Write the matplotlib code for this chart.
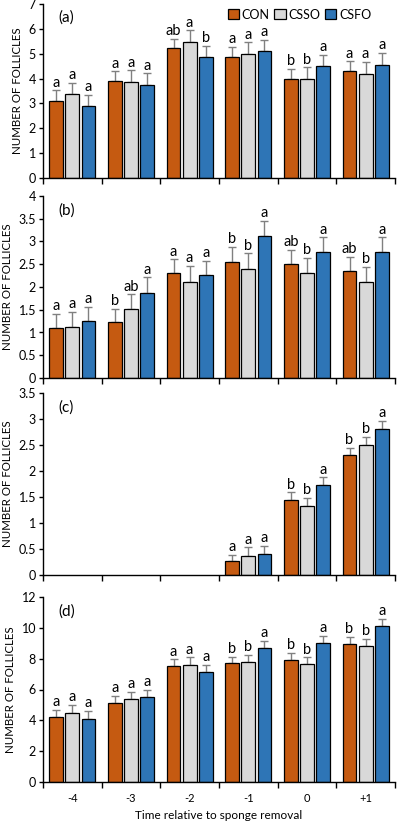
import matplotlib
matplotlib.use("Agg")
import matplotlib.pyplot as plt
import numpy as np

plt.rcParams["font.family"] = ["Lato", "DejaVu Sans"]

days = ["-4", "-3", "-2", "-1", "0", "+1"]
groups = ["CON", "CSSO", "CSFO"]
colors = {"CON": "#C55A11", "CSSO": "#D9D9D9", "CSFO": "#2E75B6"}

# panel (a)
a_mean = {"CON": [3.11, 3.89, 5.21, 4.88, 4.00, 4.30],
          "CSSO": [3.38, 3.86, 5.48, 4.99, 4.00, 4.20],
          "CSFO": [2.88, 3.74, 4.85, 5.11, 4.49, 4.53]}
a_err = {"CON": [0.42, 0.40, 0.39, 0.39, 0.40, 0.39],
         "CSSO": [0.44, 0.47, 0.46, 0.47, 0.45, 0.46],
         "CSFO": [0.46, 0.47, 0.47, 0.45, 0.47, 0.50]}
a_letters = {"CON": ["a", "a", "ab", "a", "b", "a"],
             "CSSO": ["a", "a", "a", "a", "b", "a"],
             "CSFO": ["a", "a", "b", "a", "a", "a"]}

# panel (b)
b_mean = {"CON": [1.10, 1.22, 2.30, 2.56, 2.51, 2.36],
          "CSSO": [1.12, 1.51, 2.10, 2.40, 2.30, 2.12],
          "CSFO": [1.26, 1.875, 2.26, 3.13, 2.76, 2.76]}
b_err = {"CON": [0.31, 0.30, 0.31, 0.315, 0.31, 0.31],
         "CSSO": [0.34, 0.33, 0.36, 0.34, 0.34, 0.33],
         "CSFO": [0.31, 0.335, 0.32, 0.32, 0.33, 0.33]}
b_letters = {"CON": ["a", "b", "a", "b", "ab", "ab"],
             "CSSO": ["a", "ab", "a", "b", "b", "b"],
             "CSFO": ["a", "a", "a", "a", "a", "a"]}

# panel (c)
c_mean = {"CON": [np.nan, np.nan, np.nan, 0.26, 1.445, 2.30],
          "CSSO": [np.nan, np.nan, np.nan, 0.37, 1.33, 2.50],
          "CSFO": [np.nan, np.nan, np.nan, 0.40, 1.73, 2.81]}
c_err = {"CON": [np.nan, np.nan, np.nan, 0.13, 0.145, 0.14],
         "CSSO": [np.nan, np.nan, np.nan, 0.16, 0.15, 0.15],
         "CSFO": [np.nan, np.nan, np.nan, 0.165, 0.15, 0.15]}
c_letters = {"CON": ["", "", "", "a", "b", "b"],
             "CSSO": ["", "", "", "a", "b", "b"],
             "CSFO": ["", "", "", "a", "a", "a"]}

# panel (d)
d_mean = {"CON": [4.24, 5.11, 7.54, 7.70, 7.93, 8.96],
          "CSSO": [4.50, 5.39, 7.61, 7.78, 7.65, 8.83],
          "CSFO": [4.09, 5.54, 7.13, 8.67, 9.00, 10.09]}
d_err = {"CON": [0.43, 0.46, 0.42, 0.41, 0.44, 0.43],
         "CSSO": [0.48, 0.46, 0.48, 0.46, 0.44, 0.45],
         "CSFO": [0.50, 0.46, 0.46, 0.48, 0.48, 0.48]}
d_letters = {"CON": ["a", "a", "a", "b", "b", "b"],
             "CSSO": ["a", "a", "a", "b", "b", "b"],
             "CSFO": ["a", "a", "a", "a", "a", "a"]}

panels = [
    ("(a)", a_mean, a_err, a_letters, 7, 1),
    ("(b)", b_mean, b_err, b_letters, 4, 0.5),
    ("(c)", c_mean, c_err, c_letters, 3.5, 0.5),
    ("(d)", d_mean, d_err, d_letters, 12, 2),
]

# axes boxes in pixels (top, bottom) of a 400x822 figure
W, H = 400, 822
boxes = [(4, 178), (196, 378), (393, 575), (597, 782)]
left_px, right_px = 43, 395

fig = plt.figure(figsize=(W / 100, H / 100), dpi=100)
x = np.arange(len(days))
offsets = [-0.275, 0.0, 0.275]
width = 0.235

for (label, means, errs, letters, ymax, step), (top, bot) in zip(panels, boxes):
    ax = fig.add_axes([left_px / W, 1 - bot / H, (right_px - left_px) / W, (bot - top) / H])
    for g, off in zip(groups, offsets):
        m = np.array(means[g], dtype=float)
        e = np.array(errs[g], dtype=float)
        ax.bar(x + off, m, width, color=colors[g], edgecolor="black", linewidth=0.9,
               label=g, zorder=2)
        ax.errorbar(x + off, m, yerr=[np.zeros_like(e), e], fmt="none",
                    ecolor="#808080", elinewidth=1.0, capsize=3, capthick=1.0, zorder=1)
        for xi, mi, ei, t in zip(x + off, m, e, letters[g]):
            if t:
                ax.text(xi, mi + ei + ymax * 0.004, t, ha="center", va="bottom",
                        fontsize=10.5, color="black")
    ax.set_xlim(-0.5, 5.5)
    ax.set_ylim(0, ymax)
    ticks = np.arange(0, ymax + step / 2, step)
    ax.set_yticks(ticks)
    ax.set_yticklabels([f"{v:g}" for v in ticks])
    ax.set_xticks(np.arange(-0.5, 6, 1))
    ax.set_xticklabels([])
    ax.tick_params(axis="x", length=4, width=1)
    ax.tick_params(axis="y", length=3, width=1, labelsize=9, pad=2)
    for s in ("top", "right"):
        ax.spines[s].set_visible(False)
    ax.spines["left"].set_linewidth(1)
    ax.spines["bottom"].set_linewidth(1)
    ax.set_ylabel("NUMBER OF FOLLICLES", fontsize=8.3)
    ax.text(0.045, 0.92, label, transform=ax.transAxes, fontsize=11, va="center")
    if label == "(a)":
        ax.legend(loc="upper right", bbox_to_anchor=(0.95, 1.01), ncol=3, frameon=False,
                  fontsize=9, handlelength=0.9, handleheight=0.9, handletextpad=0.2,
                  columnspacing=0.4, borderaxespad=0.1)
    if label == "(d)":
        ax.set_xticks(x, minor=True)
        ax.set_xticklabels(days, minor=True)
        ax.tick_params(axis="x", which="minor", length=0, labelsize=8, pad=8)
        ax.set_xlabel("Time relative to sponge removal", fontsize=8.5, labelpad=4)

fig.savefig("out.png", dpi=100)
